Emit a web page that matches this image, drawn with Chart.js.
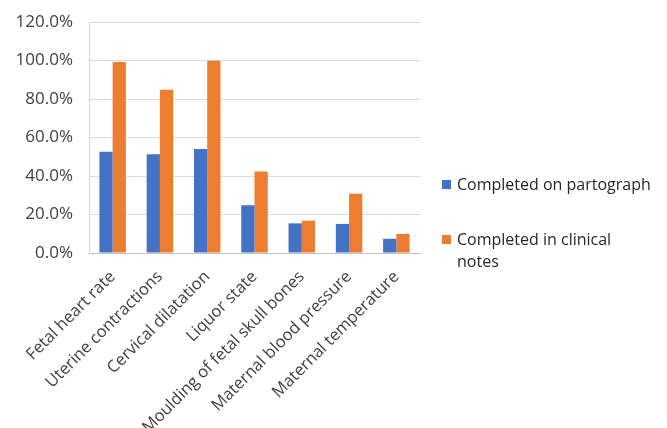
<!DOCTYPE html>
<html>
<head>
<meta charset="utf-8">
<script src="https://cdn.jsdelivr.net/npm/chart.js@4.4.0/dist/chart.umd.min.js"></script>
<style>
  html, body { margin: 0; padding: 0; background: #ffffff; }
  #wrap { position: relative; width: 667px; height: 428px; }
  #legend { position: absolute; left: 442px; top: 173px; width: 225px; font-family: "Open Sans", sans-serif; font-size: 16px; color: #262626; }
  .item { position: relative; padding-left: 15px; line-height: 22px; white-space: nowrap; }
  .sw { position: absolute; left: 0; top: 7px; width: 9px; height: 9px; }
</style>
</head>
<body>
<div id="wrap">
  <canvas id="c" width="667" height="428"></canvas>
  <div id="legend"></div>
</div>
<script>
const categories = ["Fetal heart rate", "Uterine contractions", "Cervical dilatation", "Liquor state", "Moulding of fetal skull bones", "Maternal blood pressure", "Maternal temperature"];
const seriesNames = ["Completed on partograph", "Completed in clinical notes"];
const partograph = [52.6, 51.3, 54.0, 24.8, 15.4, 15.1, 7.4];
const clinicalNotes = [99.2, 84.8, 99.9, 42.4, 16.8, 30.8, 9.9];
const yTicks = [0, 20, 40, 60, 80, 100, 120];
const colors = ["#4472C4", "#ED7D31"];

const fontFamily = '"Open Sans", sans-serif';

new Chart(document.getElementById("c"), {
  type: "bar",
  data: {
    labels: categories,
    datasets: [
      { label: seriesNames[0], data: partograph, backgroundColor: colors[0], categoryPercentage: 0.56, barPercentage: 1.0 },
      { label: seriesNames[1], data: clinicalNotes, backgroundColor: colors[1], categoryPercentage: 0.56, barPercentage: 1.0 }
    ]
  },
  options: {
    responsive: false,
    animation: false,
    layout: { padding: { top: 22, right: 247, left: 0, bottom: 0 } },
    plugins: { legend: { display: false }, tooltip: { enabled: false } },
    scales: {
      x: {
        grid: { display: false, drawTicks: false },
        border: { display: true, color: "#bfbfbf", width: 1 },
        ticks: { minRotation: 45, maxRotation: 45, padding: 14, color: "#404040", font: { family: fontFamily, size: 16.5 } },
        afterFit: (s) => { s.height = 175; s.paddingLeft = 0; s.paddingRight = 0; }
      },
      y: {
        min: 0, max: 120,
        afterBuildTicks: (s) => { s.ticks = yTicks.map(v => ({ value: v })); },
        grid: { color: "#d9d9d9", drawTicks: false },
        border: { display: true, color: "#d9d9d9" },
        ticks: { padding: 16, color: "#404040", font: { family: fontFamily, size: 17 }, callback: (v) => v.toFixed(1) + "%" },
        afterFit: (s) => { s.width = 89; s.paddingTop = 0; s.paddingBottom = 0; }
      }
    }
  }
});

const legend = document.getElementById("legend");
const legendText = [["Completed on partograph"], ["Completed in clinical", "notes"]];
legendText.forEach((lines, i) => {
  const d = document.createElement("div");
  d.className = "item";
  d.style.marginBottom = i === 0 ? "33px" : "0";
  const sw = document.createElement("span");
  sw.className = "sw";
  sw.style.background = colors[i];
  d.appendChild(sw);
  d.appendChild(document.createTextNode(lines[0]));
  for (let k = 1; k < lines.length; k++) {
    d.appendChild(document.createElement("br"));
    d.appendChild(document.createTextNode(lines[k]));
  }
  legend.appendChild(d);
});
</script>
</body>
</html>
